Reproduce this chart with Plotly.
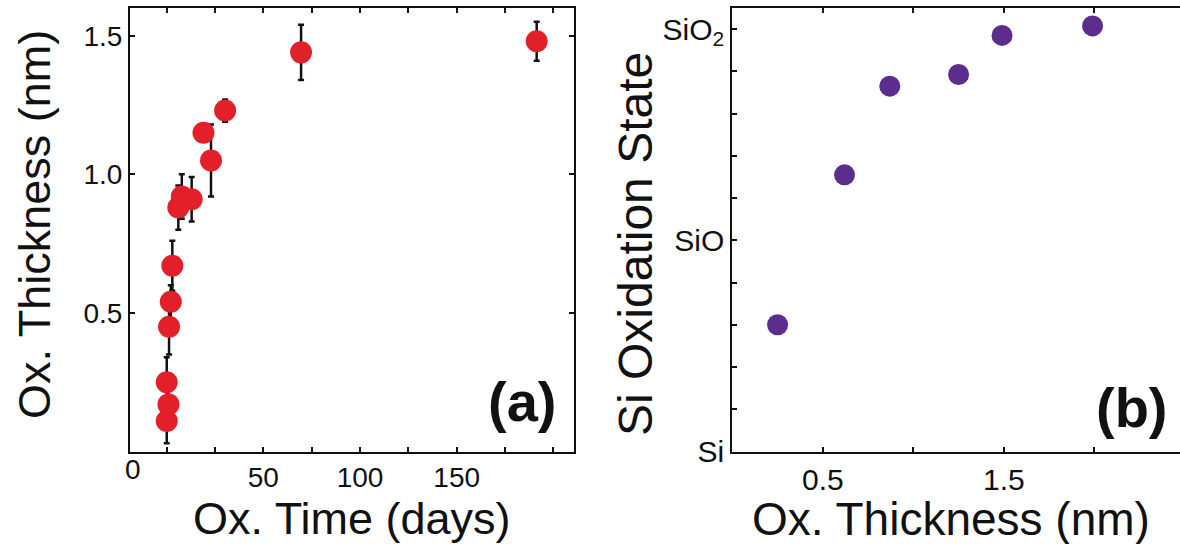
import plotly.graph_objects as go

# ---- Panel (a): oxide thickness vs oxidation time ----
ox_time_days = [0, 0.9, 0, 1.2, 2.1, 2.9, 6.0, 7.8, 12.9, 19.0, 22.9, 30.2, 69.5, 191.4]
ox_thickness_nm = [0.11, 0.17, 0.25, 0.45, 0.54, 0.67, 0.88, 0.92, 0.91, 1.15, 1.05, 1.23, 1.44, 1.48]
ox_thickness_err = [0.08, 0.05, 0.09, 0.10, 0.06, 0.09, 0.08, 0.08, 0.08, 0.03, 0.13, 0.04, 0.10, 0.07]

# ---- Panel (b): Si oxidation state vs oxide thickness ----
b_thickness_nm = [0.25, 0.62, 0.87, 1.25, 1.49, 1.99]
b_oxidation_state = [1.20, 2.62, 3.46, 3.57, 3.94, 4.03]   # Si=0, SiO=2, SiO2=4

a_xticks = [0, 25, 50, 75, 100, 125, 150, 175, 200]
a_xticktext = ["", "", "50", "", "100", "", "150", "", ""]
a_yticks = [0.5, 1.0, 1.5]
a_yticktext = ["0.5", "1.0", "1.5"]
b_xticks = [0.5, 1.0, 1.5, 2.0]
b_xticktext = ["0.5", "", "1.5", ""]
b_yticks = [0, 0.4, 0.8, 1.2, 1.6, 2.0, 2.4, 2.8, 3.2, 3.6, 4.0]
b_yticktext = ["Si", "", "", "", "", "SiO", "", "", "", "", "SiO<sub>2</sub>"]

W, H = 1180, 544
FONT = "Arial, 'Liberation Sans', Helvetica, sans-serif"

fig = go.Figure()
fig.add_trace(go.Scatter(
    x=ox_time_days, y=ox_thickness_nm, mode="markers",
    marker=dict(size=22, color="#E3202A", line=dict(width=0)),
    error_y=dict(type="data", array=ox_thickness_err, color="#111111", thickness=2.5, width=3),
    xaxis="x", yaxis="y", showlegend=False))
fig.add_trace(go.Scatter(
    x=b_thickness_nm, y=b_oxidation_state, mode="markers",
    marker=dict(size=21, color="#5C2D8C", line=dict(width=0)),
    xaxis="x2", yaxis="y2", showlegend=False))

ydom = [1 - 451.5 / H, 1 - 8 / H]


def ax(size):
    return dict(showgrid=False, zeroline=False, showline=True, linecolor="#111111", linewidth=2,
                ticks="inside", ticklen=5, tickwidth=1.5, tickcolor="#111111", automargin=False,
                tickfont=dict(family=FONT, size=size, color="#111111"))


fig.update_layout(
    width=W, height=H, margin=dict(l=0, r=0, t=0, b=0, pad=0, autoexpand=False),
    paper_bgcolor="white", plot_bgcolor="white",
    font=dict(family=FONT, color="#111111"),
    xaxis=dict(domain=[130 / W, 574 / W], range=[-19, 210.7], tickmode="array",
               tickvals=a_xticks, ticktext=a_xticktext, mirror="ticks", anchor="y", **ax(28)),
    yaxis=dict(domain=ydom, range=[0, 1.6], tickmode="array",
               tickvals=a_yticks, ticktext=a_yticktext, mirror="ticks", anchor="x", **ax(28)),
    xaxis2=dict(domain=[732.3 / W, 1.0], range=[0, 2.473], tickmode="array",
                tickvals=b_xticks, ticktext=b_xticktext, mirror="ticks", anchor="y2", **ax(30)),
    yaxis2=dict(domain=ydom, range=[0, 4.2], tickmode="array",
                tickvals=b_yticks, ticktext=b_yticktext, mirror=False, anchor="x2", **ax(30)),
)

ann = [
    dict(text="0", x=133 / W, y=1 - 469.7 / H, font=dict(size=28)),
    dict(text="Ox. Thickness (nm)", x=34 / W, y=1 - 225 / H, textangle=-90, font=dict(size=45)),
    dict(text="Ox. Time (days)", x=352 / W, y=1 - 518 / H, font=dict(size=45)),
    dict(text="Si Oxidation State", x=636 / W, y=1 - 244 / H, textangle=-90, font=dict(size=48)),
    dict(text="Ox. Thickness (nm)", x=951 / W, y=1 - 519 / H, font=dict(size=46)),
    dict(text="<b>(a)</b>", x=521.7 / W, y=1 - 401 / H, font=dict(size=56)),
    dict(text="<b>(b)</b>", x=1131.7 / W, y=1 - 407.5 / H, font=dict(size=56)),
]
for a in ann:
    a.update(xref="paper", yref="paper", showarrow=False, xanchor="center", yanchor="middle")
    a["font"].update(family=FONT, color="#111111")
    fig.add_annotation(**a)

fig.write_html("out.html")
